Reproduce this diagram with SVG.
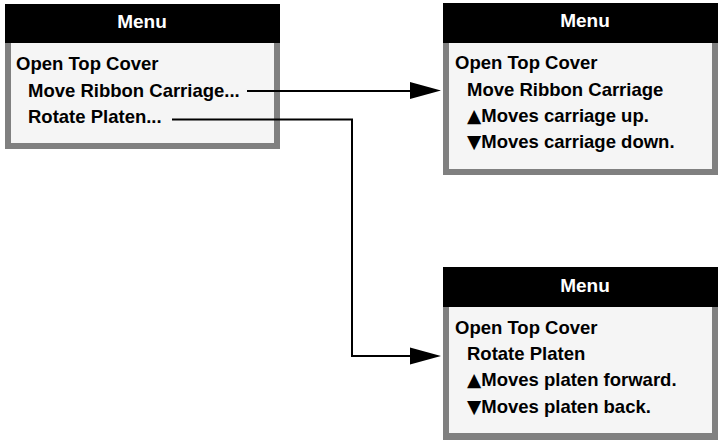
<svg xmlns="http://www.w3.org/2000/svg" width="719" height="440" viewBox="0 0 719 440">
<style>
.frame{fill:#808080}
.inner{fill:#f5f5f5}
.head{fill:#000}
.t{font-family:"Liberation Sans",Arial,sans-serif;font-weight:bold;font-size:18.5px;fill:#000}
.tri{font-family:"DejaVu Sans",sans-serif;font-weight:normal}
.h{font-family:"Liberation Sans",Arial,sans-serif;font-weight:bold;font-size:19px;fill:#fff;text-anchor:middle}
.ln{fill:none;stroke:#000;stroke-width:2}
.ah{fill:#000}
</style>
<rect width="719" height="440" fill="#fff"/>
<g id="menu-main">
<rect class="frame" x="5" y="4" width="275" height="145"/>
<rect class="inner" x="11" y="43" width="263" height="100"/>
<rect class="head" x="5" y="4" width="275" height="39"/>
<text class="h" x="142" y="28">Menu</text>
<text class="t" x="16" y="70">Open Top Cover</text>
<text class="t" x="28" y="97">Move Ribbon Carriage...</text>
<text class="t" x="28" y="123">Rotate Platen...</text>
</g>
<g id="menu-carriage">
<rect class="frame" x="443" y="3" width="275" height="172"/>
<rect class="inner" x="449" y="43" width="263" height="126"/>
<rect class="head" x="443" y="3" width="275" height="40"/>
<text class="h" x="585" y="27">Menu</text>
<text class="t" x="455" y="69">Open Top Cover</text>
<text class="t" x="467" y="96">Move Ribbon Carriage</text>
<text class="t" x="467" y="122"><tspan class="tri">▲</tspan>Moves carriage up.</text>
<text class="t" x="467" y="148"><tspan class="tri">▼</tspan>Moves carriage down.</text>
</g>
<g id="menu-platen">
<rect class="frame" x="443" y="267" width="275" height="173"/>
<rect class="inner" x="449" y="307" width="263" height="126"/>
<rect class="head" x="443" y="267" width="275" height="40"/>
<text class="h" x="585" y="292">Menu</text>
<text class="t" x="455" y="334">Open Top Cover</text>
<text class="t" x="467" y="360">Rotate Platen</text>
<text class="t" x="467" y="386"><tspan class="tri">▲</tspan>Moves platen forward.</text>
<text class="t" x="467" y="413"><tspan class="tri">▼</tspan>Moves platen back.</text>
</g>
<g id="connectors">
<path class="ln" d="M247,91 H412"/>
<polygon class="ah" points="410,82 441,90.5 410,99"/>
<path class="ln" d="M172,119.5 H352 V356 H412"/>
<polygon class="ah" points="410,347.5 441,356 410,364.5"/>
</g>
</svg>
